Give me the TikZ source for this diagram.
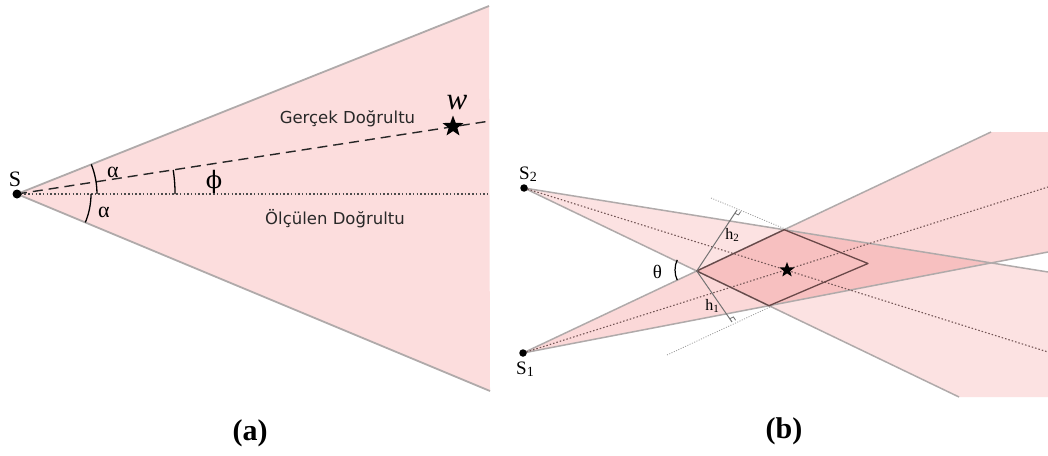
\documentclass[tikz,border=0pt]{standalone}
\usepackage{fontspec}
\setmainfont{Liberation Serif}
\newfontfamily\labelsans{DejaVu Sans}
\newfontfamily\grkserif{DejaVu Serif}
\usetikzlibrary{calc,shapes.geometric}
\definecolor{conefill}{RGB}{252,221,221}
\definecolor{wedgeA}{RGB}{251,216,216}
\definecolor{wedgeB}{RGB}{252,226,226}
\definecolor{overlapfill}{RGB}{247,192,192}
\definecolor{edgegray}{RGB}{176,170,170}
\definecolor{dotline}{RGB}{115,85,85}
\definecolor{paraline}{RGB}{105,72,72}
\definecolor{textdark}{RGB}{40,40,40}
\begin{document}
\begin{tikzpicture}[x=1pt,y=-1pt,
  wedgeedge/.style={draw=edgegray,line width=1.5pt},
  conedge/.style={draw=edgegray,line width=1.8pt},
  truedir/.style={draw=black!85,line width=1.4pt,dash pattern=on 10pt off 6pt},
  measdir/.style={draw=black!70,line width=1.1pt,dash pattern=on 1.5pt off 2.2pt},
  beardir/.style={draw=dotline,line width=1.1pt,dash pattern=on 1.5pt off 2pt},
  guide/.style={draw=black!40,line width=0.8pt,dash pattern=on 1pt off 1.5pt},
  hline/.style={draw=black!55,line width=1pt},
  anglearc/.style={draw=black,line width=1.3pt},
  sensor/.style={circle,fill=black,inner sep=0pt,minimum size=#1},
  starmark/.style={star,star points=5,star point ratio=2.4,fill=black,inner sep=0pt,minimum size=#1},
  lbl/.style={inner sep=0pt},
  sanslbl/.style={inner sep=0pt,text=textdark,font=\labelsans\fontsize{16.5}{18}\selectfont},
]
\fill[white] (0,0) rectangle (1048,455);
\useasboundingbox (0,0) rectangle (1048,455);

% ---------------- (a) ----------------
\coordinate (Sa) at (17,194);
\coordinate (Ct) at (489,6);
\coordinate (Cb) at (490,391);
\coordinate (De) at (490,121);
\coordinate (Me) at (490,194);
\fill[conefill] (Sa) -- (Ct) -- (Cb) -- cycle;
\draw[conedge] (Sa) -- (Ct);
\draw[conedge] (Sa) -- (Cb);
\draw[truedir] (Sa) -- (De);
\draw[measdir] (Sa) -- (Me);
\draw[anglearc] (91.3,164.4) arc[start angle=21.7,end angle=0,radius=80pt];
\draw[anglearc] (91,194) arc[start angle=0,end angle=-22.6,radius=74pt];
\draw[anglearc] (173.2,170) arc[start angle=8.75,end angle=0,radius=158pt];
\node[sensor=9pt] (S) at (Sa) {};
\node[starmark=22pt] (W) at (453,126.5) {};
\node[lbl,anchor=base] (Slbl) at (15,186) {\fontsize{22}{24}\selectfont S};
\node[lbl,anchor=base] (a1) at (113,177) {\fontsize{22}{24}\selectfont α};
\node[lbl,anchor=base] (a2) at (104,217) {\fontsize{22}{24}\selectfont α};
\node[lbl] (phi) at (214,182) {\grkserif\fontsize{24}{26}\selectfont ϕ};
\node[lbl] (wl) at (457,103) {\fontsize{31}{33}\selectfont\itshape w};
\node[sanslbl,anchor=base] (gt) at (347.5,123.3) {Gerçek Doğrultu};
\node[sanslbl,anchor=base] (ml) at (335,224) {Ölçülen Doğrultu};
\node[lbl] (capa) at (250,433) {\fontsize{30}{32}\selectfont\bfseries (a)};

% ---------------- (b) ----------------
\coordinate (S2a) at (524,188);
\coordinate (S1a) at (523,353);
\coordinate (E1u) at (991,132);
\coordinate (E1l) at (1048,252);
\coordinate (E2u) at (1048,272);
\coordinate (E2l) at (959,397);
\coordinate (K1) at (1048,132);
\coordinate (K2) at (1048,397);
\coordinate (C1e) at (1048,187);
\coordinate (C2e) at (1048,352);
\coordinate (L) at (intersection of S2a--E2l and S1a--E1u);
\coordinate (T) at (intersection of S1a--E1u and S2a--E2u);
\coordinate (X) at (intersection of S2a--E2u and S1a--E1l);
\coordinate (B) at (intersection of S2a--E2l and S1a--E1l);
\coordinate (R) at (868,263.5);
\coordinate (G2a) at (711,198);
\coordinate (G2b) at (790,231);
\coordinate (G1a) at (667,355);
\coordinate (G1b) at (772,306);
\coordinate (F2) at (737,210);
\coordinate (F1) at (732,322);

\fill[wedgeA] (S1a) -- (E1u) -- (K1) -- (E1l) -- cycle;
\fill[wedgeB] (S2a) -- (E2u) -- (K2) -- (E2l) -- cycle;
\fill[overlapfill] (L) -- (T) -- (X) -- (B) -- cycle;
\draw[wedgeedge] (S1a) -- (E1u);
\draw[wedgeedge] (S1a) -- (E1l);
\draw[wedgeedge] (S2a) -- (E2u);
\draw[wedgeedge] (S2a) -- (E2l);
\draw[beardir] (S1a) -- (C1e);
\draw[beardir] (S2a) -- (C2e);
\draw[guide] (G2a) -- (G2b);
\draw[guide] (G1a) -- (G1b);
\draw[draw=paraline,line width=1.3pt,line join=round] (L) -- (T) -- (R) -- (B) -- cycle;
\draw[hline] (L) -- (F2);
\draw[hline] (L) -- (F1);
\draw[draw=black!55,line width=0.8pt] (734.84,213.36) -- (738.53,214.91) -- (740.69,211.55);
\draw[draw=black!55,line width=0.8pt] (729.8,318.66) -- (733.42,316.95) -- (735.62,320.29);
\draw[anglearc,line width=1.2pt] (677.25,280.14) arc[start angle=205,end angle=155,radius=24pt];
\node[starmark=16pt] (tgt) at (787,270) {};
\node[sensor=7.5pt] (S2) at (S2a) {};
\node[sensor=7.5pt] (S1) at (S1a) {};
\node[lbl] (s2l) at (528,174) {\fontsize{19}{21}\selectfont S\raisebox{-2.5pt}{\fontsize{14}{15}\selectfont 2}};
\node[lbl] (s1l) at (525,369) {\fontsize{19}{21}\selectfont S\raisebox{-2.5pt}{\fontsize{14}{15}\selectfont 1}};
\node[lbl] (h2l) at (732,235) {\fontsize{16}{17}\selectfont h\raisebox{-2.5pt}{\fontsize{11}{12}\selectfont 2}};
\node[lbl] (h1l) at (712,306) {\fontsize{16}{17}\selectfont h\raisebox{-2.5pt}{\fontsize{11}{12}\selectfont 1}};
\node[lbl] (thl) at (657.5,272) {\fontsize{19}{21}\selectfont θ};
\node[lbl] (capb) at (784,431) {\fontsize{30}{32}\selectfont\bfseries (b)};
\end{tikzpicture}
\end{document}
